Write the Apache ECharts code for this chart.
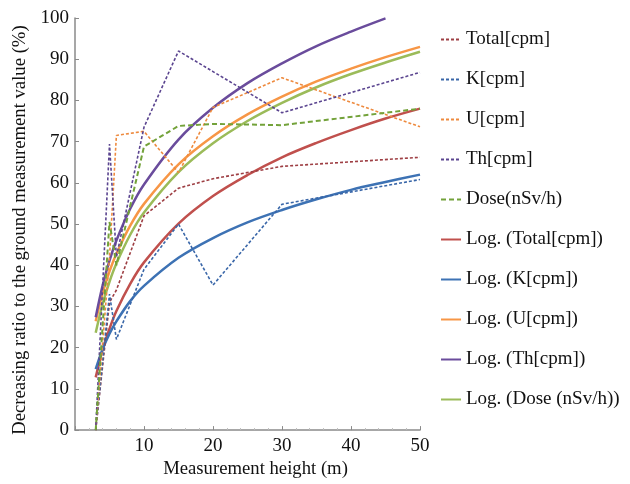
<!DOCTYPE html>
<html>
<head>
<meta charset="utf-8">
<script src="https://cdn.jsdelivr.net/npm/echarts@6/dist/echarts.min.js"></script>
<style>
  html, body { margin: 0; padding: 0; background: #fff; }
  #chart { width: 630px; height: 484px; }
</style>
</head>
<body>
<div id="chart"></div>
<script>
// Measured heights (m) and decreasing ratio (%) per channel
const heights = [3, 5, 6, 10, 15, 20, 30, 50];
const totalCpm = [0, 31, 34, 52, 58.7, 61, 64, 66.2];
const kCpm = [0, 33, 22, 39, 50, 35.2, 54.8, 60.8];
const uCpm = [0, 42, 71.5, 72.5, 62.5, 78.3, 85.5, 73.6];
const thCpm = [0, 69.4, 42, 73.5, 92, 87, 77, 86.8];
const doseRate = [0, 50.5, 40, 68.8, 73.8, 74.3, 74, 78];

// Logarithmic trend lines, sampled along the height axis
const fitHeights = [3, 4, 5, 6, 8, 10, 15, 20, 25, 30, 35, 40, 45, 50];
const logTotal = [12.8, 19.5, 24.6, 28.9, 35.5, 40.7, 50.1, 56.8, 61.9, 66.2, 69.7, 72.8, 75.6, 78.0];
const logK = [14.8, 19.6, 23.4, 26.4, 31.3, 35.0, 41.8, 46.6, 50.4, 53.4, 56.0, 58.3, 60.2, 62.0];
const logU = [26.4, 33.2, 38.5, 42.8, 49.6, 54.9, 64.5, 71.3, 76.6, 80.9, 84.6, 87.7, 90.5, 93.0];
const logTh = [27.4, 35.1, 41.1, 46.0, 53.7, 59.6, 70.5, 78.2, 84.2, 89.0, 93.2, 96.7, 99.9];
const logDose = [23.6, 30.6, 36.0, 40.4, 47.4, 52.8, 62.6, 69.6, 75.0, 79.4, 83.2, 86.4, 89.2, 91.8];

const xTicks = [0, 10, 20, 30, 40, 50];

const serif = '"Liberation Serif", "DejaVu Serif", serif';

function pairs(xs, ys) {
  return ys.map((y, i) => [xs[i], y]);
}

function dashed(name, xs, ys, color, dash, width) {
  return {
    name: name, type: 'line', data: pairs(xs, ys),
    symbol: 'none', z: 3,
    lineStyle: { color: color, width: width || 1.6, type: dash || [3, 2] },
    itemStyle: { color: color }
  };
}

function trend(name, xs, ys, color) {
  return {
    name: name, type: 'line', data: pairs(xs, ys),
    symbol: 'none', smooth: 0.35, z: 2,
    lineStyle: { color: color, width: 2.5 },
    itemStyle: { color: color }
  };
}

const series = [
  dashed('Total[cpm]', heights, totalCpm, '#9e3f44'),
  dashed('K[cpm]', heights, kCpm, '#3966a8'),
  dashed('U[cpm]', heights, uCpm, '#ee8a3e'),
  dashed('Th[cpm]', heights, thCpm, '#5b4590'),
  dashed('Dose(nSv/h)', heights, doseRate, '#73a23a', [5, 3], 2),
  trend('Log. (Total[cpm])', fitHeights, logTotal, '#c0504d'),
  trend('Log. (K[cpm])', fitHeights, logK, '#3d72b4'),
  trend('Log. (U[cpm])', fitHeights, logU, '#f79646'),
  trend('Log. (Th[cpm])', fitHeights, logTh, '#6a4c9c'),
  trend('Log. (Dose (nSv/h))', fitHeights, logDose, '#9bbb59')
];

const chart = echarts.init(document.getElementById('chart'), null, { renderer: 'canvas' });
chart.setOption({
  animation: false,
  backgroundColor: '#fff',
  grid: { left: 75, right: 210, top: 18, bottom: 51, containLabel: false },
  legend: {
    orient: 'vertical',
    left: 435,
    top: 25,
    itemWidth: 20,
    itemHeight: 14,
    itemGap: 21,
    itemStyle: { opacity: 0 },
    data: series.map(s => s.name),
    textStyle: { fontFamily: serif, fontSize: 19, color: '#111' }
  },
  xAxis: {
    type: 'value',
    min: xTicks[0],
    max: xTicks[xTicks.length - 1],
    interval: 10,
    name: 'Measurement height (m)',
    nameLocation: 'middle',
    nameGap: 29,
    nameTextStyle: { fontFamily: serif, fontSize: 18.7, color: '#111', padding: [0, 0, 0, 16] },
    axisLine: { lineStyle: { color: '#8a8a8a', width: 1.5 } },
    axisTick: { inside: true, length: 4, lineStyle: { color: '#8a8a8a' } },
    minorTick: { show: true, splitNumber: 5, length: 2, lineStyle: { color: '#bbb' } },
    axisLabel: { showMinLabel: false, fontFamily: serif, fontSize: 19, color: '#111', margin: 6 },
    splitLine: { show: false }
  },
  yAxis: {
    type: 'value',
    min: 0,
    max: 100,
    interval: 10,
    name: 'Decreasing ratio to the ground measurement value (%)',
    nameLocation: 'middle',
    nameGap: 43,
    nameTextStyle: { fontFamily: serif, fontSize: 18.7, color: '#111', padding: [0, 12, 0, 0] },
    axisLine: { show: true, lineStyle: { color: '#8a8a8a', width: 1.5 } },
    axisTick: { show: true, inside: true, length: 4, lineStyle: { color: '#8a8a8a' } },
    axisLabel: { fontFamily: serif, fontSize: 19, color: '#111', margin: 6 },
    splitLine: { show: false }
  },
  series: series
});
</script>
</body>
</html>
